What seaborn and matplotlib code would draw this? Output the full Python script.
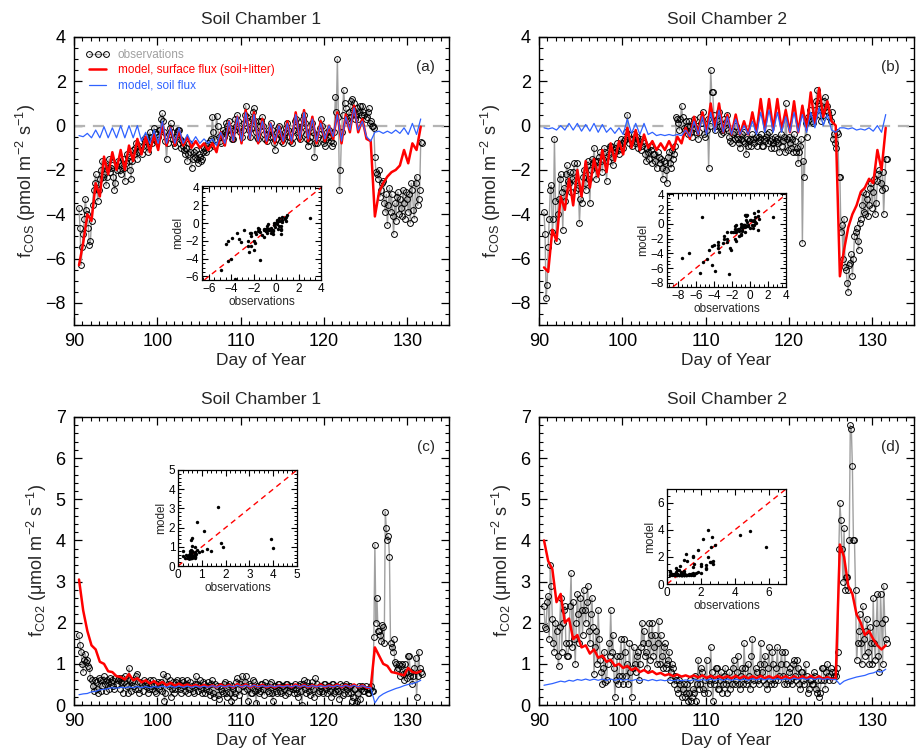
import numpy as np
import matplotlib
matplotlib.use("Agg")
import matplotlib.pyplot as plt
from matplotlib.ticker import MultipleLocator
import seaborn as sns

# ---- time axes (day of year) ----
# observations: two interleaved sets, each every 6 h (second set 3 h later)
OBS_T0, OBS_DT, N_OBS, OBS_SHIFT = 90.6, 0.25, 165, 0.125
# model output every 12 h, on the same clock as the first observation set
MOD_T0, MOD_DT, N_MOD = 90.6, 0.5, 83

# ---- COS flux, chamber 1 (pmol m-2 s-1) ----
cos1_obs = [
    -3.7, -6.3, -4.9, -3.3, -4.0, -5.4, -4.3, -2.9,
    -2.2, -3.4, -2.4, -1.6, -2.2, -2.7, -1.9, -2.1,
    -1.8, -2.9, -2.0, -1.7, -2.2, -1.5, -2.5, -1.3,
    -1.6, -2.4, -1.1, -1.0, -1.5, -0.9, -1.3, -0.6,
    -0.5, -1.2, -0.3, -0.8, -0.1, -0.7, -0.5, -0.2,
    0.55, -0.3, -1.5, -0.4, 0.1, -0.6, -0.9, -0.3,
    -0.2, -1.0, -0.9, -1.3, -1.6, -0.8, -1.9, -1.2,
    -1.1, -1.7, -1.4, -1.5, -1.0, -1.2, -0.8, -0.7,
    0.4, -0.9, 0.45, -0.5, -0.8, -0.2, -0.3, 0.0,
    0.2, -0.4, -0.6, 0.3, 0.5, -0.1, -0.5, 0.1,
    0.9, 0.2, -0.5, 0.3, 0.8, -0.3, -0.6, 0.0,
    0.4, -0.4, -0.7, -0.2, 0.1, -0.5, -1.1, -0.3,
    0.0, -0.7, -0.8, -0.3, 0.1, -0.5, -0.8, -0.2,
    0.3, -0.3, -0.6, 0.0, 0.5, -0.4, -0.9, -0.5,
    0.1, -1.4, -0.8, -0.4, 0.3, -0.6, -0.9, -0.3,
    -0.2, -0.7, -0.8, 1.3, 3.0, -2.9, -0.3, 1.6,
    0.8, 0.2, 0.4, 1.2, 1.0, 0.5, 0.3, 0.9,
    0.9, 0.5, 0.4, 0.8, 0.2, 0.0, -1.4, -2.2,
    -2.0, -2.9, -2.5, -3.9, -4.5, -2.8, -3.1, -4.9,
    -4.3, -3.0, -3.3, -4.1, -3.5, -3.0, -3.9, -4.4,
    -2.9, -4.2, -2.3, -3.3, -0.75,
]
cos1_obs_b = [
    -4.6, -5.5, -4.2, -3.8, -4.6, -5.2, -3.6, -2.6,
    -2.8, -2.9, -2.0, -2.3, -1.8, -2.3, -1.5, -1.9,
    -2.3, -2.6, -1.6, -2.0, -1.8, -1.9, -1.7, -1.4,
    -2.0, -1.6, -1.3, -0.8, -1.2, -1.1, -0.9, -0.7,
    -0.9, -0.8, -0.5, -0.6, -0.3, -0.4, -0.2, 0.3,
    0.2, -0.7, -0.8, -0.1, -0.3, -0.8, -0.5, -0.2,
    -0.6, -0.7, -1.1, -1.0, -1.3, -1.2, -1.5, -1.4,
    -1.5, -1.3, -1.6, -1.2, -1.1, -0.9, -1.0, -0.6,
    -0.3, -0.6, 0.0, -0.7, -0.4, -0.5, 0.1, -0.2,
    -0.1, -0.6, -0.2, 0.0, 0.2, -0.3, -0.2, 0.5,
    0.4, -0.2, -0.1, 0.6, 0.2, -0.5, 0.2, 0.2,
    0.0, -0.6, -0.4, -0.5, -0.2, -0.8, -0.6, -0.1,
    -0.4, -0.5, -0.5, -0.1, -0.2, -0.7, -0.5, 0.2,
    0.0, -0.5, -0.3, 0.3, 0.1, -0.6, -0.7, -0.2,
    -0.3, -0.8, -0.5, -0.1, 0.0, -0.8, -0.6, -0.5,
    -0.5, -0.9, -0.3, 0.6, 0.4, -2.0, 0.5, 1.0,
    0.3, 0.6, 1.1, 0.7, 0.3, 0.8, 0.6, 0.5,
    0.6, 0.3, 0.6, 0.1, 0.0, -0.1, -2.1, -2.4,
    -3.2, -2.6, -3.5, -3.1, -3.6, -3.9, -4.1, -3.5,
    -3.2, -4.0, -3.7, -2.9, -4.2, -3.3, -3.1, -2.6,
    -3.8, -2.6, -3.6, -2.9, -0.8,
]
cos1_surface = [
    -6.3, -5.3, -4.0, -4.3, -2.6, -3.2, -1.4, -2.2, -1.2, -2.0,
    -1.1, -2.0, -0.9, -1.6, -0.6, -1.3, -0.5, -1.2, -0.4, -1.1,
    0.1, -0.9, -0.1, -0.9, -0.2, -0.9, -0.5, -1.0, -0.7, -1.0,
    -0.8, -1.1, -0.8, -1.2, -0.3, -0.9, 0.2, -0.7, 0.4, -0.8,
    0.7, -0.6, 0.6, -0.8, 0.3, -0.8, 0.1, -0.8, 0.0, -0.8,
    0.2, -0.8, 0.6, -0.7, 0.7, -0.7, 0.4, -0.8, 0.2, -0.7,
    0.0, -0.6, 0.6, -0.8, 0.5, -0.3, 0.9, -0.3, 0.3, -0.6,
    -0.7, -4.1, -3.0, -2.6, -2.3, -2.1, -2.0, -1.8, -1.1, -1.7,
    -0.8, -1.1, -0.05,
]
cos1_soil = [
    -0.45, -0.5, -0.35, -0.55, -0.2, -0.55, -0.05, -0.55, -0.1, -0.55,
    0.0, -0.55, 0.0, -0.55, 0.0, -0.7, -0.3, -0.8, -0.2, -0.8,
    0.2, -0.8, -0.1, -0.8, -0.1, -0.8, -0.4, -0.8, -0.5, -0.8,
    -0.6, -0.8, -0.6, -0.9, -0.3, -0.8, 0.2, -0.7, 0.4, -0.7,
    0.6, -0.6, 0.5, -0.7, 0.2, -0.7, 0.1, -0.7, 0.0, -0.7,
    0.1, -0.7, 0.5, -0.6, 0.6, -0.6, 0.3, -0.7, 0.1, -0.6,
    0.0, -0.5, 0.5, -0.7, 0.4, -0.2, 0.8, -0.2, 0.2, -0.5,
    -0.7, -0.3, -0.25, -0.35, -0.25, -0.35, -0.2, -0.35, -0.1, -0.4,
    0.1, -0.4, 0.3,
]

# ---- COS flux, chamber 2 ----
cos2_obs = [
    -3.9, -7.8, -5.5, -2.9, -4.8, -0.6, -5.2, -3.3,
    -2.2, -4.7, -3.4, -1.8, -2.6, -3.0, -2.1, -2.5,
    -1.7, -4.4, -3.5, -2.0, -2.9, -1.6, -3.5, -1.5,
    -1.0, -2.4, -1.6, -1.2, -2.1, -1.0, -2.5, -1.3,
    -0.9, -1.8, -1.2, -0.8, -1.3, -0.6, -1.0, -0.6,
    0.5, -0.8, -0.9, -0.4, -0.7, -1.0, -0.6, -0.9,
    -0.8, -1.6, -1.2, -0.9, -1.7, -1.3, -1.9, -1.4,
    -1.5, -2.4, -1.7, -2.6, -1.2, -1.9, -1.5, -0.9,
    0.3, -0.2, 0.9, -0.1, 0.2, -0.4, 0.0, -0.5,
    0.3, -0.3, -0.6, 0.4, 0.1, -0.4, -0.2, -1.9,
    2.5, 1.5, -0.2, 0.3, 0.6, -0.4, -0.3, 0.1,
    0.5, -0.5, -0.8, -0.3, 0.0, -0.6, -1.0, -0.4,
    -0.3, -1.3, -0.9, -0.6, -0.4, -0.8, -0.9, -0.5,
    -0.4, -0.9, -0.7, -0.4, -0.3, -1.0, -0.8, -0.5,
    -0.6, -1.2, -0.9, -0.5, 1.0, -1.1, -0.8, -0.6,
    -0.4, -1.2, -1.7, -0.9, -5.3, -2.3, -0.5, 0.3,
    0.5, 0.1, 0.7, 1.6, 0.9, 0.2, 0.5, 1.3,
    0.9, 0.4, 0.6, -0.4, -1.0, -0.4, -2.3, -4.5,
    -4.2, -6.5, -7.5, -6.2, -6.8, -5.0, -4.6, -5.6,
    -4.2, -3.0, -4.0, -3.3, -3.6, -2.6, -3.0, -4.0,
    -2.5, -2.0, -2.9, -4.0, -1.5,
]
cos2_obs_b = [
    -4.9, -7.2, -4.2, -2.7, -4.2, -3.4, -4.0, -2.4,
    -3.0, -2.8, -2.2, -2.5, -2.1, -2.4, -1.7, -2.9,
    -2.8, -3.3, -2.3, -2.6, -1.8, -2.4, -2.0, -1.7,
    -1.6, -1.9, -1.4, -1.6, -1.5, -1.2, -1.6, -0.9,
    -1.4, -1.1, -1.0, -1.1, -0.9, -0.8, -0.7, -0.3,
    -0.4, -0.6, -0.6, -0.8, -0.5, -0.7, -1.1, -0.7,
    -1.3, -1.0, -1.5, -1.1, -1.3, -1.6, -1.2, -1.7,
    -1.9, -1.6, -2.0, -1.4, -1.7, -1.1, -1.3, 0.4,
    0.1, 0.3, 0.4, -0.2, 0.0, 0.2, -0.3, 0.1,
    -0.1, 0.0, -0.3, 0.1, 0.6, -0.5, 0.3, 0.0,
    1.5, 0.5, 0.0, 0.2, 0.0, -0.2, 0.3, -0.1,
    -0.2, -0.7, -0.4, -0.6, -0.5, -0.8, -0.6, -0.7,
    -0.8, -0.6, -0.7, -0.9, -0.6, -0.5, -0.7, -0.6,
    -0.9, -0.6, -0.5, -0.8, -0.7, -0.6, -1.0, -0.7,
    -0.8, -0.4, -0.7, -1.2, -0.6, -0.5, -1.0, -1.2,
    -0.7, -1.0, -1.2, -0.6, -1.6, 0.1, 0.4, 0.7,
    0.2, 0.4, 1.1, 1.0, 0.5, 0.8, 1.1, 0.7,
    0.6, 0.2, -0.6, -0.8, -0.3, -2.3, -4.8, -6.0,
    -6.4, -7.1, -6.3, -5.8, -6.0, -4.8, -5.2, -4.4,
    -3.6, -3.9, -3.1, -4.1, -2.8, -3.7, -2.4, -3.5,
    -2.2, -2.6, -2.1, -2.8, -1.5,
]
cos2_surface = [
    -6.4, -6.6, -4.7, -5.2, -3.2, -3.8, -2.4, -3.6, -2.0, -3.2,
    -1.6, -2.8, -1.5, -2.3, -1.1, -2.1, -0.8, -1.6, -0.7, -1.3,
    -0.1, -1.0, -0.2, -1.1, -0.4, -1.0, -0.7, -1.1, -0.8, -1.1,
    -0.7, -1.1, -0.5, -0.8, -0.1, -0.6, 0.4, -0.4, 0.6, -0.3,
    1.0, -0.2, 1.0, -0.3, 0.5, -0.4, 0.5, -0.4, 0.2, -0.4,
    0.6, -0.3, 1.2, -0.2, 1.2, -0.2, 1.2, -0.2, 0.7, -0.3,
    1.1, -0.3, 0.9, -0.2, 1.5, 0.1, 1.7, 0.4, 1.1, 0.2,
    0.0, -6.8, -5.6, -4.6, -4.0, -3.6, -3.0, -2.8, -2.4, -2.6,
    -1.1, -2.0, -0.1,
]
cos2_soil = [
    -0.1, -0.15, -0.1, -0.2, 0.0, -0.2, 0.1, -0.2, 0.1, -0.25,
    0.05, -0.25, 0.1, -0.3, 0.05, -0.3, -0.1, -0.35, -0.1, -0.4,
    0.3, -0.35, 0.1, -0.4, 0.1, -0.4, -0.3, -0.45, -0.4, -0.45,
    -0.4, -0.45, -0.4, -0.45, -0.2, -0.5, 0.2, -0.4, 0.4, -0.4,
    0.6, -0.3, 0.7, -0.3, 0.4, -0.4, 0.3, -0.4, 0.0, -0.4,
    0.2, -0.4, 0.6, -0.3, 0.7, -0.3, 0.6, -0.3, 0.4, -0.3,
    0.6, -0.3, 0.5, -0.3, 0.6, -0.1, 0.8, 0.0, 0.5, -0.2,
    -0.3, -0.1, -0.1, -0.15, -0.1, -0.2, -0.15, -0.2, -0.1, -0.25,
    0.0, -0.3, 0.5,
]

# ---- CO2 flux, chamber 1 (umol m-2 s-1) ----
co2_1_obs = [
    1.7, 1.3, 0.8, 1.25, 1.1, 0.9, 0.6, 0.35,
    0.55, 0.3, 0.6, 0.45, 0.7, 0.35, 0.55, 0.65,
    0.6, 0.4, 0.5, 0.65, 0.55, 0.3, 0.7, 0.45,
    0.9, 0.35, 0.6, 0.4, 0.75, 0.3, 0.5, 0.6,
    0.45, 0.3, 0.6, 0.4, 0.5, 0.3, 0.55, 0.45,
    0.35, 0.1, 0.7, 0.45, 0.2, 0.55, 0.4, 0.6,
    0.5, 0.3, 0.55, 0.35, 0.6, 0.4, 0.45, 0.3,
    0.7, 0.35, 0.6, 0.3, 0.5, 0.4, 0.55, 0.25,
    0.6, 0.2, 0.45, 0.15, 0.4, 0.3, 0.55, 0.2,
    0.5, 0.1, 0.4, 0.3, 0.65, 0.25, 0.7, 0.35,
    0.7, 0.1, 0.45, 0.3, 0.55, 0.05, 0.4, 0.35,
    0.5, 0.25, 0.45, 0.3, 0.55, 0.1, 0.45, 0.3,
    0.5, 0.3, 0.45, 0.25, 0.5, 0.35, 0.45, 0.3,
    0.4, 0.2, 0.5, 0.0, 0.6, 0.3, 0.45, 0.25,
    0.55, 0.2, 0.5, 0.35, 0.45, 0.3, 0.5, 0.3,
    0.45, 0.2, 0.5, 0.35, 0.4, 0.15, 0.45, 0.3,
    0.5, 0.3, 0.45, 0.1, 0.4, 0.05, 0.3, 0.15,
    0.45, 0.35, 0.4, 0.3, 0.45, 0.35, 3.9, 2.6,
    1.8, 1.55, 1.9, 4.7, 4.0, 3.6, 1.4, 1.6,
    1.0, 0.9, 0.7, 1.0, 0.6, 0.8, 1.2, 0.7,
    0.5, 0.9, 0.2, 1.3, 0.8,
]
co2_1_obs_b = [
    1.45, 1.0, 1.1, 1.05, 0.95, 0.65, 0.45, 0.6,
    0.4, 0.65, 0.35, 0.6, 0.5, 0.6, 0.4, 0.55,
    0.45, 0.65, 0.6, 0.4, 0.65, 0.55, 0.5, 0.3,
    0.6, 0.55, 0.45, 0.7, 0.4, 0.55, 0.35, 0.5,
    0.55, 0.4, 0.45, 0.6, 0.35, 0.5, 0.4, 0.55,
    0.75, 0.3, 0.5, 0.6, 0.4, 0.3, 0.55, 0.45,
    0.4, 0.6, 0.45, 0.5, 0.3, 0.55, 0.35, 0.5,
    0.5, 0.45, 0.4, 0.55, 0.3, 0.45, 0.35, 0.5,
    0.3, 0.5, 0.25, 0.45, 0.35, 0.5, 0.3, 0.45,
    0.3, 0.45, 0.2, 0.55, 0.4, 0.5, 0.45, 0.55,
    0.4, 0.5, 0.3, 0.6, 0.35, 0.45, 0.3, 0.5,
    0.4, 0.55, 0.35, 0.5, 0.3, 0.45, 0.35, 0.5,
    0.35, 0.45, 0.4, 0.5, 0.3, 0.45, 0.4, 0.5,
    0.3, 0.45, 0.35, 0.5, 0.4, 0.55, 0.35, 0.45,
    0.4, 0.65, 0.3, 0.45, 0.35, 0.5, 0.4, 0.45,
    0.35, 0.5, 0.3, 0.45, 0.35, 0.5, 0.25, 0.45,
    0.4, 0.45, 0.3, 0.2, 0.4, 0.1, 0.45, 0.4,
    0.35, 0.45, 0.3, 0.4, 0.35, 1.65, 2.0, 1.8,
    1.7, 1.95, 1.5, 4.3, 4.1, 1.5, 1.3, 1.05,
    0.85, 1.0, 0.95, 0.75, 1.0, 0.65, 1.2, 0.8,
    0.7, 1.15, 0.7, 0.9, 0.75,
]
co2_1_surface = [
    3.05, 2.3, 1.8, 1.45, 1.35, 1.05, 1.0, 0.82, 0.8, 0.7,
    0.68, 0.62, 0.75, 0.6, 0.65, 0.55, 0.6, 0.52, 0.58, 0.5,
    0.56, 0.48, 0.54, 0.47, 0.52, 0.46, 0.5, 0.45, 0.49, 0.44,
    0.49, 0.44, 0.48, 0.43, 0.5, 0.44, 0.49, 0.43, 0.51, 0.44,
    0.5, 0.43, 0.48, 0.44, 0.49, 0.43, 0.47, 0.43, 0.48, 0.44,
    0.49, 0.43, 0.5, 0.44, 0.49, 0.43, 0.48, 0.44, 0.5, 0.43,
    0.48, 0.44, 0.5, 0.43, 0.49, 0.44, 0.5, 0.43, 0.48, 0.42,
    0.42, 1.4, 1.2, 1.0, 0.95, 0.8, 0.78, 0.75, 0.72, 0.9,
    0.8, 0.78, 0.82,
]
co2_1_soil = [
    0.25, 0.27, 0.28, 0.32, 0.33, 0.37, 0.38, 0.4, 0.42, 0.41,
    0.43, 0.42, 0.44, 0.42, 0.45, 0.42, 0.45, 0.42, 0.45, 0.43,
    0.46, 0.43, 0.46, 0.43, 0.46, 0.43, 0.46, 0.43, 0.46, 0.43,
    0.46, 0.43, 0.47, 0.43, 0.47, 0.44, 0.47, 0.44, 0.48, 0.44,
    0.48, 0.44, 0.48, 0.44, 0.47, 0.44, 0.47, 0.44, 0.47, 0.44,
    0.47, 0.44, 0.48, 0.44, 0.48, 0.44, 0.47, 0.44, 0.47, 0.44,
    0.47, 0.44, 0.48, 0.44, 0.48, 0.44, 0.48, 0.44, 0.47, 0.43,
    0.42, 0.05, 0.2, 0.27, 0.32, 0.36, 0.4, 0.43, 0.47, 0.5,
    0.52, 0.55, 0.6,
]

# ---- CO2 flux, chamber 2 ----
co2_2_obs = [
    2.4, 1.85, 2.65, 3.4, 2.1, 1.3, 1.8, 0.95,
    2.6, 2.0, 2.4, 1.2, 1.5, 3.2, 2.5, 1.0,
    2.7, 1.5, 2.3, 2.8, 2.0, 2.9, 1.5, 2.6,
    0.75, 1.8, 2.3, 1.1, 0.5, 1.3, 0.6, 1.5,
    2.3, 1.7, 0.2, 1.2, 0.7, 1.6, 0.5, 1.3,
    1.0, 1.5, 0.2, 1.4, 0.8, 1.3, 1.0, 2.0,
    1.8, 1.3, 1.5, 1.1, 2.0, 1.4, 1.0, 2.05,
    1.7, 0.9, 1.5, 1.0, 1.3, 0.8, 0.9, 0.7,
    0.4, 0.6, 0.2, 0.5, 0.3, 0.1, 0.6, 0.2,
    0.3, 0.1, 1.1, 0.5, 0.8, 0.3, 1.1, 0.6,
    1.4, 0.1, 0.6, 0.9, 0.4, 0.8, 0.5, 0.9,
    0.3, 0.8, 0.5, 1.1, 0.6, 1.2, 0.4, 0.9,
    1.5, 0.5, 1.0, 0.4, 1.6, 0.6, 0.8, 0.5,
    1.5, 0.6, 1.2, 0.4, 1.4, 0.5, 1.0, 0.6,
    1.4, 0.7, 1.3, 0.5, 1.0, 0.6, 0.9, 0.5,
    1.1, 0.6, 0.9, 0.4, 0.8, 0.5, 0.7, 0.4,
    0.6, 0.5, 0.7, 0.3, 0.2, 0.6, 0.9, 0.4,
    1.0, 0.6, 0.8, 0.7, 0.7, 1.3, 4.9, 3.8,
    4.3, 3.1, 2.8, 6.8, 5.8, 4.0, 1.1, 1.8,
    1.5, 2.4, 1.2, 2.1, 1.0, 1.5, 2.6, 1.1,
    2.7, 0.8, 2.0, 2.9, 1.6,
]
co2_2_obs_b = [
    1.9, 2.5, 1.6, 2.9, 1.5, 2.0, 1.2, 1.9,
    1.3, 2.3, 1.5, 1.2, 2.4, 1.4, 1.6, 2.0,
    2.2, 2.6, 1.7, 2.3, 2.5, 1.8, 2.2, 1.9,
    1.4, 1.0, 1.6, 0.8, 0.9, 0.55, 1.0, 1.2,
    1.3, 0.9, 0.6, 0.5, 1.2, 0.7, 1.6, 0.7,
    0.5, 0.8, 0.9, 1.0, 1.2, 0.6, 1.4, 1.5,
    1.2, 0.9, 2.0, 1.7, 1.2, 1.7, 1.5, 1.0,
    1.2, 1.4, 0.9, 1.1, 0.6, 1.0, 0.5, 0.6,
    0.3, 0.5, 0.4, 0.2, 0.5, 0.3, 0.1, 0.4,
    0.7, 0.5, 0.4, 0.9, 0.4, 0.6, 0.3, 0.5,
    0.8, 0.5, 0.9, 0.4, 0.6, 0.3, 0.7, 0.5,
    0.6, 0.4, 0.9, 0.5, 0.8, 0.5, 0.7, 0.5,
    0.9, 0.6, 0.7, 1.2, 0.5, 0.9, 0.6, 1.0,
    0.8, 1.0, 0.5, 0.9, 0.6, 1.3, 0.5, 0.9,
    0.6, 1.0, 0.7, 1.3, 0.5, 0.8, 0.6, 1.0,
    0.7, 1.1, 0.5, 0.8, 0.6, 1.0, 0.3, 0.6,
    0.5, 0.8, 0.4, 0.6, 0.3, 0.9, 0.6, 0.8,
    0.7, 0.9, 0.6, 0.8, 0.9, 3.8, 4.5, 3.0,
    2.8, 3.1, 4.0, 6.7, 4.0, 2.8, 1.5, 2.2,
    1.0, 1.6, 1.8, 1.3, 1.9, 1.0, 1.5, 2.0,
    1.2, 2.7, 1.0, 2.1, 1.5,
]
co2_2_surface = [
    4.0, 3.5, 3.3, 2.5, 2.7, 2.0, 2.1, 1.6, 1.7, 1.4,
    1.45, 1.25, 1.35, 1.15, 1.2, 1.05, 1.1, 0.95, 1.0, 0.9,
    0.95, 0.85, 0.9, 0.8, 0.85, 0.78, 0.82, 0.75, 0.78, 0.72,
    0.75, 0.7, 0.74, 0.69, 0.72, 0.68, 0.72, 0.67, 0.72, 0.66,
    0.71, 0.66, 0.7, 0.66, 0.7, 0.65, 0.71, 0.65, 0.7, 0.65,
    0.7, 0.65, 0.71, 0.65, 0.7, 0.65, 0.71, 0.65, 0.7, 0.64,
    0.7, 0.64, 0.7, 0.64, 0.71, 0.64, 0.7, 0.63, 0.68, 0.63,
    0.64, 3.9, 3.6, 2.9, 2.7, 2.2, 2.0, 1.7, 1.8, 1.6,
    1.45, 1.35, 1.45,
]
co2_2_soil = [
    0.48, 0.5, 0.52, 0.55, 0.58, 0.56, 0.6, 0.58, 0.62, 0.6,
    0.63, 0.6, 0.63, 0.6, 0.63, 0.6, 0.63, 0.6, 0.63, 0.6,
    0.62, 0.59, 0.62, 0.59, 0.62, 0.59, 0.62, 0.59, 0.61, 0.59,
    0.61, 0.59, 0.61, 0.59, 0.61, 0.59, 0.62, 0.59, 0.62, 0.6,
    0.63, 0.6, 0.63, 0.6, 0.63, 0.6, 0.63, 0.6, 0.63, 0.6,
    0.64, 0.61, 0.64, 0.61, 0.64, 0.61, 0.64, 0.61, 0.64, 0.61,
    0.65, 0.62, 0.65, 0.62, 0.65, 0.62, 0.65, 0.62, 0.64, 0.62,
    0.62, 0.5, 0.58, 0.62, 0.65, 0.68, 0.7, 0.72, 0.76, 0.78,
    0.82, 0.8, 0.87,
]

titles = ["Soil Chamber 1", "Soil Chamber 2", "Soil Chamber 1", "Soil Chamber 2"]
letters = ["(a)", "(b)", "(c)", "(d)"]
legend_labels = ["observations", "model, surface flux (soil+litter)", "model, soil flux"]

OBS_GREY = "#a0a0a0"
RED = "#ff0000"
BLUE = "#2f62ff"

sns.set_theme(style="ticks")
plt.rcParams["font.family"] = ["Liberation Sans", "DejaVu Sans"]
plt.rcParams["mathtext.fontset"] = "custom"
plt.rcParams["mathtext.rm"] = "Liberation Sans"
plt.rcParams["mathtext.it"] = "Liberation Sans:italic"
plt.rcParams["axes.linewidth"] = 1.0
plt.rcParams["axes.edgecolor"] = "black"

t_obs_a = OBS_T0 + OBS_DT * np.arange(N_OBS)
t_obs = np.column_stack([t_obs_a, t_obs_a + OBS_SHIFT]).ravel()
t_mod = MOD_T0 + MOD_DT * np.arange(N_MOD)

ylab_cos = r"$\mathregular{f_{COS}}$ (pmol m$^{\mathregular{-2}}$ s$^{\mathregular{-1}}$)"
ylab_co2 = r"$\mathregular{f_{CO2}}$ ($\mathregular{\mu}$mol m$^{\mathregular{-2}}$ s$^{\mathregular{-1}}$)"

panels = [
    dict(rect=[0.0807, 0.5678, 0.409, 0.383], irect=[0.2203, 0.6277, 0.1298, 0.125],
         obs=(cos1_obs, cos1_obs_b), red=cos1_surface, blue=cos1_soil,
         ylim=(-9, 4), ymaj=2, ymin=0.5, ylab=ylab_cos,
         ilim=((-6.6, 4), (-6.4, 4.2)), imaj=2, imin=0.5, zero=True),
    dict(rect=[0.5878, 0.5678, 0.409, 0.383], irect=[0.7274, 0.6184, 0.1298, 0.125],
         obs=(cos2_obs, cos2_obs_b), red=cos2_surface, blue=cos2_soil,
         ylim=(-9, 4), ymaj=2, ymin=0.5, ylab=ylab_cos,
         ilim=((-9.2, 4), (-8.55, 4.2)), imaj=2, imin=0.5, zero=True),
    dict(rect=[0.0807, 0.0625, 0.409, 0.383], irect=[0.1941, 0.2473, 0.1298, 0.1277],
         obs=(co2_1_obs, co2_1_obs_b), red=co2_1_surface, blue=co2_1_soil,
         ylim=(0, 7), ymaj=1, ymin=0.2, ylab=ylab_co2,
         ilim=((0, 5), (0, 5)), imaj=1, imin=0.2, zero=False),
    dict(rect=[0.5878, 0.0625, 0.409, 0.383], irect=[0.7274, 0.2234, 0.1298, 0.1263],
         obs=(co2_2_obs, co2_2_obs_b), red=co2_2_surface, blue=co2_2_soil,
         ylim=(0, 7), ymaj=1, ymin=0.2, ylab=ylab_co2,
         ilim=((0, 7), (0, 7)), imaj=2, imin=0.5, zero=False),
]

fig = plt.figure(figsize=(9.17, 7.52), dpi=100)

for k, p in enumerate(panels):
    ax = fig.add_axes(p["rect"])
    obs_a, obs_b = p["obs"]
    obs_all = np.column_stack([obs_a, obs_b]).ravel()

    if p["zero"]:
        ax.axhline(0, color="#b4b4b4", lw=1.6, ls=(0, (5, 3.5)), zorder=1)
    sns.lineplot(x=t_obs, y=obs_all, ax=ax, estimator=None, sort=False,
                 color=OBS_GREY, lw=1.0, marker="o", ms=4.2, mfc="none",
                 mec="black", mew=0.7, zorder=2, label=legend_labels[0], legend=False)
    sns.lineplot(x=t_mod, y=p["red"], ax=ax, estimator=None, sort=False,
                 color=RED, lw=1.8, zorder=3, label=legend_labels[1], legend=False)
    sns.lineplot(x=t_mod, y=p["blue"], ax=ax, estimator=None, sort=False,
                 color=BLUE, lw=0.9, zorder=4, label=legend_labels[2], legend=False)

    ax.set_xlim(90, 135)
    ax.set_ylim(*p["ylim"])
    ax.xaxis.set_major_locator(MultipleLocator(10))
    ax.xaxis.set_minor_locator(MultipleLocator(1))
    ax.yaxis.set_major_locator(MultipleLocator(p["ymaj"]))
    ax.yaxis.set_minor_locator(MultipleLocator(p["ymin"]))
    ax.tick_params(which="both", direction="in", top=True, right=True, colors="black")
    ax.tick_params(which="major", length=6, width=0.9, labelsize=13)
    ax.tick_params(axis="x", which="major", pad=6)
    ax.tick_params(axis="y", which="major", pad=6)
    ax.tick_params(which="minor", length=3, width=0.8)
    ax.set_xlabel("Day of Year", fontsize=12.5, labelpad=2)
    ax.set_ylabel(p["ylab"], fontsize=13, labelpad=5)
    ax.set_title(titles[k], fontsize=12.5, pad=9)
    ax.text(0.962, 0.895, letters[k], transform=ax.transAxes, ha="right", va="center",
            fontsize=11)
    for s in ax.spines.values():
        s.set_visible(True)

    if k == 0:
        handles = ax.get_lines()[-3:]
        ax.legend(handles=handles, labels=legend_labels, loc="upper left",
                  bbox_to_anchor=(0.0, 1.0), frameon=False, fontsize=8.5,
                  handlelength=2.0, handletextpad=0.7, labelspacing=0.3,
                  borderaxespad=0.6, numpoints=3, labelcolor="linecolor")

    # inset: model surface flux vs the observations taken at the model times
    ins = fig.add_axes(p["irect"])
    obs_at_model = np.asarray(obs_a)[::2]
    sns.scatterplot(x=obs_at_model, y=p["red"], ax=ins, s=6, color="black",
                    linewidth=0, zorder=3)
    ins.axline((0, 0), slope=1, color=RED, lw=1.0, ls=(0, (4, 3)), zorder=2)
    ins.set_xlim(*p["ilim"][0])
    ins.set_ylim(*p["ilim"][1])
    ins.xaxis.set_major_locator(MultipleLocator(p["imaj"]))
    ins.yaxis.set_major_locator(MultipleLocator(p["imaj"]))
    ins.xaxis.set_minor_locator(MultipleLocator(p["imin"]))
    ins.yaxis.set_minor_locator(MultipleLocator(p["imin"]))
    ins.tick_params(which="both", direction="in", top=True, right=True, colors="black")
    ins.tick_params(which="major", length=4, width=0.8, labelsize=8.5, pad=2)
    ins.tick_params(which="minor", length=2.2, width=0.7)
    ins.set_xlabel("observations", fontsize=8.5, labelpad=1)
    ins.set_ylabel("model", fontsize=8.5, labelpad=1)
    for s in ins.spines.values():
        s.set_visible(True)
        s.set_linewidth(0.9)

fig.savefig("out.png", dpi=100)
